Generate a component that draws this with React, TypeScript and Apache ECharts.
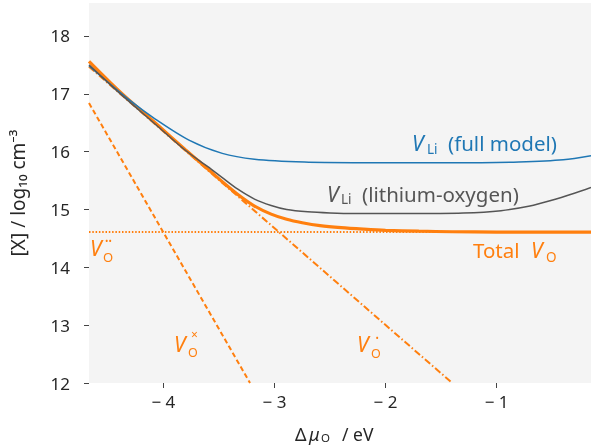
import React, { useEffect, useRef } from "react";
import * as echarts from "echarts";

const FONT = "'Noto Sans', 'DejaVu Sans', sans-serif";

// x-axis tick values (eV)
const xTickValues = [-4, -3, -2, -1];

// Total V_O concentration (thick orange)
const totalX = [-4.67, -4.4, -4.07, -3.8, -3.6, -3.47, -3.33, -3.18, -3.03, -2.89, -2.75, -2.59, -2.4, -2.2, -2.0, -1.7, -1.4, -1.0, -0.15];
const totalY = [17.56, 17.05, 16.49, 16.03, 15.7, 15.48, 15.26, 15.06, 14.92, 14.83, 14.77, 14.72, 14.685, 14.66, 14.64, 14.625, 14.615, 14.61, 14.61];

// V_Li full model (blue)
const liFullX = [-4.67, -4.31, -4.07, -3.77, -3.47, -3.18, -2.73, -2.29, -1.8, -1.14, -0.8, -0.4, -0.15];
const liFullY = [17.48, 16.9, 16.56, 16.2, 15.97, 15.87, 15.82, 15.81, 15.81, 15.81, 15.82, 15.86, 15.93];

// V_Li lithium-oxygen model (grey)
const liOX = [-4.67, -4.4, -4.07, -3.8, -3.6, -3.47, -3.33, -3.18, -3.03, -2.89, -2.7, -2.5, -2.29, -1.8, -1.3, -0.96, -0.7, -0.52, -0.3, -0.15];
const liOY = [17.5, 17.02, 16.47, 16.02, 15.74, 15.55, 15.35, 15.18, 15.07, 15.0, 14.96, 14.94, 14.93, 14.93, 14.94, 14.98, 15.06, 15.15, 15.28, 15.38];

// V_O^x (dashed)
const voNeutralX = [-4.67, -3.22];
const voNeutralY = [16.84, 12.0];

// V_O^. (dash-dot)
const voSingleX = [-4.67, -1.4];
const voSingleY = [17.47, 12.0];

// V_O^.. (dotted)
const voDoubleX = [-4.67, -0.15];
const voDoubleY = [14.61, 14.61];

const ORANGE = "#ff7f0e";
const BLUE = "#1f77b4";
const GREY = "#555555";
const TEXT = "#262626";

const pairs = (xs: number[], ys: number[]) => xs.map((x, i) => [x, ys[i]]);

function t(x: number, y: number, text: string, size: number, color: string, italic = false) {
  return {
    type: "text",
    x,
    y,
    z: 100,
    style: {
      text,
      fontSize: size,
      lineHeight: Math.round(size),
      fontFamily: FONT,
      fontStyle: italic ? "italic" : "normal",
      fill: color,
      align: "left",
      verticalAlign: "middle",
    },
  };
}

const MAIN = 20.5;
const VS = 21;
const SUB = 13.5;

export default function App() {
  const ref = useRef<HTMLDivElement>(null);
  useEffect(() => {
    if (!ref.current) return;
    const chart = echarts.init(ref.current, null, { renderer: "svg" });
    chart.setOption({
      animation: false,
      textStyle: { fontFamily: FONT },
      grid: {
        left: 82,
        right: 0,
        top: 3,
        bottom: 63,
        show: true,
        backgroundColor: "#f4f4f4",
        borderWidth: 0,
      },
      xAxis: {
        type: "value",
        min: -4.67,
        max: -0.15,
        axisLine: { show: false },
        splitLine: { show: false },
        axisTick: { show: true, length: 5, customValues: xTickValues, lineStyle: { color: "#444", width: 1 } },
        axisLabel: {
          customValues: xTickValues,
          margin: 10,
          fontSize: 17,
          color: TEXT,
          fontFamily: FONT,
          formatter: (v: number) => (v < 0 ? "\u2212 " + Math.abs(v) : String(v)),
        },
      },
      yAxis: {
        type: "value",
        min: 12,
        max: 18.57,
        interval: 1,
        axisLine: { show: false },
        splitLine: { show: false },
        axisTick: { show: true, length: 5, lineStyle: { color: "#444", width: 1 } },
        axisLabel: {
          margin: 19,
          fontSize: 17,
          color: TEXT,
          fontFamily: FONT,
          showMaxLabel: false,
        },
        name: "[X] / log\u2081\u2080 cm\u207B\u00B3",
        nameLocation: "middle",
        nameRotate: 90,
        nameGap: 62,
        nameTextStyle: { fontSize: 19, color: TEXT, fontFamily: FONT },
      },
      series: [
        {
          type: "line",
          data: pairs(voDoubleX, voDoubleY),
          showSymbol: false,
          lineStyle: { color: ORANGE, width: 2, type: [1.5, 1.8] },
        },
        {
          type: "line",
          data: pairs(voNeutralX, voNeutralY),
          showSymbol: false,
          lineStyle: { color: ORANGE, width: 2, type: [5, 3] },
        },
        {
          type: "line",
          data: pairs(voSingleX, voSingleY),
          showSymbol: false,
          lineStyle: { color: ORANGE, width: 2, type: [7, 2.5, 1.5, 2.5] },
        },
        {
          type: "line",
          data: pairs(totalX, totalY),
          showSymbol: false,
          smooth: 0.3,
          lineStyle: { color: ORANGE, width: 3.2 },
        },
        {
          type: "line",
          data: pairs(liFullX, liFullY),
          showSymbol: false,
          smooth: 0.3,
          lineStyle: { color: BLUE, width: 1.5 },
        },
        {
          type: "line",
          data: pairs(liOX, liOY),
          showSymbol: false,
          smooth: 0.3,
          lineStyle: { color: GREY, width: 1.5 },
        },
      ],
      graphic: [
        // V_Li (full model)
        t(412, 142.5, "V", VS, BLUE, true),
        t(427, 148.5, "Li", SUB, BLUE),
        t(448, 142.5, "(full model)", MAIN, BLUE),
        // V_Li (lithium-oxygen)
        t(327, 193.5, "V", VS, GREY, true),
        t(341, 199, "Li", SUB, GREY),
        t(362, 193.5, "(lithium-oxygen)", MAIN, GREY),
        // Total V_O
        t(473, 250, "Total", MAIN, ORANGE),
        t(531, 250, "V", VS, ORANGE, true),
        t(546, 257, "O", SUB, ORANGE),
        // V_O^..
        t(90, 248, "V", VS, ORANGE, true),
        t(103, 256.5, "O", 13, ORANGE),
        t(105, 240.5, "\u2022\u2022", 9, ORANGE),
        // V_O^x
        t(174, 343.5, "V", VS, ORANGE, true),
        t(188, 352, "O", 12.5, ORANGE),
        t(191, 334, "\u00D7", 12, ORANGE),
        // V_O^.
        t(357, 344, "V", VS, ORANGE, true),
        t(371, 353.5, "O", 12.5, ORANGE),
        t(375.5, 337, "\u2022", 9, ORANGE),
        // x-axis title
        t(295, 433.5, "\u0394", 18, TEXT),
        t(309, 433.5, "\u03BC", 18, TEXT, true),
        t(321, 437.5, "O", 11.5, TEXT),
        t(342, 433.5, "/ eV", 17.5, TEXT),
      ],
    });
    return () => chart.dispose();
  }, []);
  return (
    <div
      ref={ref}
      style={{ position: "fixed", left: 0, top: 0, width: 591, height: 446 }}
    />
  );
}
